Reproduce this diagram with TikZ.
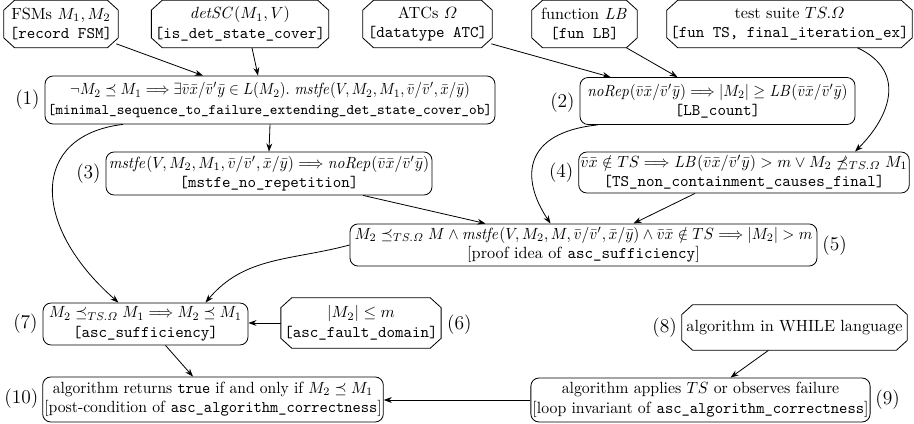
\documentclass[tikz,border=0pt]{standalone}
\usepackage{amsmath,amssymb,graphicx}
\usetikzlibrary{calc,arrows.meta}
\newcommand{\vx}{\bar{v}\bar{x}/\bar{v}'\bar{y}}
\newcommand{\sx}[2]{\scalebox{#1}[1]{#2}}
\newdimen\pxu \pxu=0.617pt
\begin{document}
\begin{tikzpicture}[x=\pxu,y=-\pxu,
  rbox/.style={draw, rounded corners=5pt, align=center, inner xsep=1pt, inner ysep=2pt, line width=0.5pt},
  obox/.style={rectangle, align=center, inner sep=2pt},
  oct/.style={line width=0.5pt},
  num/.style={font=\large, inner sep=1pt},
  arr/.style={-{Stealth[length=5pt,width=3.6pt]}, line width=0.5pt}]
\useasboundingbox (0,0) rectangle (914,424);
% top row
\node[obox, minimum width=114\pxu, minimum height=47\pxu] (fsm) at (61,24) {FSMs $M_1, M_2$\\ \texttt{[record FSM]}};
\node[obox, minimum width=170\pxu, minimum height=47\pxu] (det) at (240,24) {$\mathit{detSC}(M_1, V)$\\ \texttt{[is\_det\_state\_cover]}};
\node[obox, minimum width=129\pxu, minimum height=47\pxu] (atc) at (427.5,24) {ATCs $\varOmega$\\ \texttt{[datatype ATC]}};
\node[obox, minimum width=105\pxu, minimum height=47\pxu] (lb) at (584.5,24) {function $\mathit{LB}$\\ \texttt{[fun LB]}};
\node[obox, minimum width=235\pxu, minimum height=47\pxu] (ts) at (789.5,24) {test suite $TS.\varOmega$\\ \texttt{[fun TS, final\_iteration\_ex]}};
% (1) (2)
\node[rbox, minimum width=450\pxu, minimum height=48\pxu] (n1) at (270,100) {\sx{0.912}{$\neg M_2 \preceq M_1 \Longrightarrow \exists \vx \in L(M_2).\ \mathit{mstfe}(V, M_2, M_1, \bar{v}/\bar{v}', \bar{x}/\bar{y})$}\\ \small\texttt{[minimal\_sequence\_to\_failure\_extending\_det\_state\_cover\_ob]}};
\node[rbox, minimum width=275\pxu, minimum height=47\pxu] (n2) at (717.5,101) {\sx{0.94}{$\mathit{noRep}(\vx) \Longrightarrow |M_2| \geq \mathit{LB}(\vx)$}\\ \texttt{[LB\_count]}};
% (3) (4)
\node[rbox, minimum width=326\pxu, minimum height=43\pxu] (n3) at (269,173.5) {\sx{0.964}{$\mathit{mstfe}(V, M_2, M_1, \bar{v}/\bar{v}', \bar{x}/\bar{y}) \Longrightarrow \mathit{noRep}(\vx)$}\\ \texttt{[mstfe\_no\_repetition]}};
\node[rbox, minimum width=326\pxu, minimum height=41\pxu] (n4) at (744,172.5) {\sx{0.985}{$\bar{v}\bar{x} \notin TS \Longrightarrow \mathit{LB}(\vx) > m \vee M_2 \not\preceq_{TS.\varOmega} M_1$}\\ \texttt{[TS\_non\_containment\_causes\_final]}};
% (5)
\node[rbox, minimum width=467\pxu, minimum height=42\pxu] (n5) at (583.5,245) {\sx{0.955}{$M_2 \preceq_{TS.\varOmega} M \wedge \mathit{mstfe}(V, M_2, M, \bar{v}/\bar{v}', \bar{x}/\bar{y}) \wedge \bar{v}\bar{x} \notin TS \Longrightarrow |M_2| > m$}\\ {[}proof idea of \texttt{asc\_sufficiency}{]}};
% (7) (6) (8)
\node[rbox, minimum width=205\pxu, minimum height=42\pxu] (n7) at (145.5,324) {\sx{0.95}{$M_2 \preceq_{TS.\varOmega} M_1 \Longrightarrow M_2 \preceq M_1$}\\ \texttt{[asc\_sufficiency]}};
\node[obox, minimum width=152\pxu, minimum height=50\pxu] (n6) at (361,323) {$|M_2| \leq m$\\ \texttt{[asc\_fault\_domain]}};
\node[obox, minimum width=225\pxu, minimum height=45\pxu] (n8) at (794.5,327.5) {algorithm in WHILE language};
% (10) (9)
\node[rbox, minimum width=340\pxu, minimum height=45\pxu] (n10) at (213,399.5) {\sx{0.96}{algorithm returns \texttt{true} if and only if $M_2 \preceq M_1$}\\ \sx{0.97}{[post-condition of \texttt{asc\_algorithm\_correctness}]}};
\node[rbox, minimum width=335\pxu, minimum height=44\pxu] (n9) at (700.5,400) {\sx{0.975}{algorithm applies $TS$ or observes failure}\\ \sx{0.975}{[loop invariant of \texttt{asc\_algorithm\_correctness}]}};
% octagon outlines
\foreach \n in {fsm,det,atc,lb,ts,n6,n8}{
  \draw[oct] ($(\n.north west)+(11,0)$) -- ($(\n.north east)+(-11,0)$) -- ($(\n.north east)+(0,10)$)
    -- ($(\n.south east)+(0,-10)$) -- ($(\n.south east)+(-11,0)$) -- ($(\n.south west)+(11,0)$)
    -- ($(\n.south west)+(0,-10)$) -- ($(\n.north west)+(0,10)$) -- cycle;
}
% numbers
\node[num, anchor=east] (l1) at ($(n1.west)+(-3,0)$) {(1)};
\node[num, anchor=east] (l2) at ($(n2.west)+(-3,2)$) {(2)};
\node[num, anchor=east] (l3) at ($(n3.west)+(-3,0)$) {(3)};
\node[num, anchor=east] (l4) at ($(n4.west)+(-3,0)$) {(4)};
\node[num, anchor=west] (l5) at ($(n5.east)+(3,1)$) {(5)};
\node[num, anchor=west] (l6) at ($(n6.east)+(4,2)$) {(6)};
\node[num, anchor=east] (l7) at ($(n7.west)+(-3,0)$) {(7)};
\node[num, anchor=east] (l8) at ($(n8.west)+(-3,0)$) {(8)};
\node[num, anchor=west] (l9) at ($(n9.east)+(3,0)$) {(9)};
\node[num, anchor=east] (l10) at ($(n10.west)+(-2,-1)$) {(10)};
% connectors
\draw[arr] ($(fsm.south east)+(-2,-4)$) -- ($(n1.north)+(-67,0)$);
\draw[arr] ($(det.south)+(12,0)$) -- ($(n1.north)+(-12,0)$);
\draw[arr] ($(atc.south east)+(-1,-4)$) -- ($(n2.north)+(-107,0)$);
\draw[arr] ($(lb.south)+(42,0)$) -- ($(n2.north)+(-40,0)$);
\draw[arr] ($(ts.south)+(68,0)$) to[out=-25, in=45, looseness=1.3] ($(n4.north)+(111,0)$);
\draw[arr] (n1.south) -- (n3.north);
\draw[arr] ($(n1.south)+(-147,0)$) .. controls +(-93,11) and +(-88,-77) .. ($(n7.north)+(-27,0)$);
\draw[arr] ($(n2.south)+(-120,0)$) .. controls +(-75,8) and +(-30,-45) .. ($(n5.north)+(-33,0)$);
\draw[arr] ($(n3.south)+(94,0)$) -- ($(n5.north)+(-98,0)$);
\draw[arr] ($(n4.south)+(-49,0)$) -- ($(n5.north)+(50,0)$);
\draw[arr] (n5.west) to[out=195, in=50] ($(n7.north)+(60,0)$);
\draw[arr] (n6.west) -- (n7.east |- n6.west);
\draw[arr] ($(n7.south)+(20,0)$) -- ($(n10.north)+(-20,0)$);
\draw[arr] ($(n8.south)+(-26,0)$) -- ($(n9.north)+(30,0)$);
\draw[arr] (n9.west) -- (n10.east |- n9.west);
\end{tikzpicture}
\end{document}
